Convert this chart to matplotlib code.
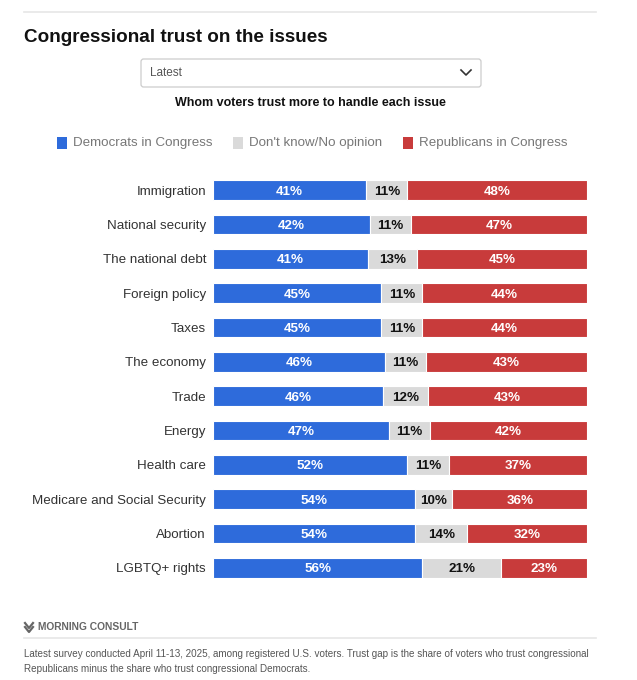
import numpy as np
import matplotlib
matplotlib.use("Agg")
import matplotlib.pyplot as plt
from matplotlib.patches import FancyBboxPatch, Rectangle
from matplotlib.lines import Line2D

plt.rcParams['font.family'] = ['Liberation Sans', 'DejaVu Sans']

# data
issues = ["Immigration", "National security", "The national debt", "Foreign policy",
          "Taxes", "The economy", "Trade", "Energy", "Health care",
          "Medicare and Social Security", "Abortion", "LGBTQ+ rights"]
dem = [41, 42, 41, 45, 45, 46, 46, 47, 52, 54, 54, 56]
dont_know = [11, 11, 13, 11, 11, 11, 12, 11, 11, 10, 14, 21]
rep = [48, 47, 45, 44, 44, 43, 43, 42, 37, 36, 32, 23]
series_names = ["Democrats in Congress", "Don't know/No opinion", "Republicans in Congress"]

BLUE = "#2e6bdb"
GRAY = "#dadada"
RED = "#c83b3b"
colors = [BLUE, GRAY, RED]

W, H = 637, 680
fig = plt.figure(figsize=(W / 100, H / 100), dpi=100)

def fx(px):
    return px / W

def fy(py):
    return 1 - py / H

# bars
ax = fig.add_axes([fx(213), fy(585), fx(587) - fx(213), fy(173) - fy(585)])
vals = np.array([dem, dont_know, rep], dtype=float)
shares = vals / vals.sum(axis=0) * 100
y = np.arange(len(issues))
left = np.zeros(len(issues))
for k in range(3):
    ax.barh(y, shares[k], left=left, height=0.58, color=colors[k],
            edgecolor="white", linewidth=0.8)
    for i in range(len(issues)):
        ax.text(left[i] + shares[k][i] / 2, y[i], f"{int(vals[k][i])}%",
                ha="center", va="center_baseline", fontsize=9.6, fontweight="bold",
                color="#111111" if k == 1 else "white")
    left += shares[k]

ax.set_xlim(0, 100)
ax.set_ylim(len(issues) - 0.5, -0.5)
ax.set_yticks(y)
ax.set_yticklabels(issues, fontsize=9.6, color="#333333")
ax.tick_params(axis="y", length=0, pad=5)
ax.set_xticks([])
for s in ax.spines.values():
    s.set_visible(False)

# header
fig.add_artist(Line2D([fx(24), fx(596)], [fy(12), fy(12)], color="#e6e6e6", lw=1.2))
fig.text(fx(24), fy(38), "Congressional trust on the issues", fontsize=13.6,
         fontweight="bold", color="#111111", va="center", ha="left")
fig.add_artist(FancyBboxPatch((fx(141), fy(87)), fx(481) - fx(141), fy(59) - fy(87),
                              boxstyle="round,pad=0,rounding_size=0.004",
                              transform=fig.transFigure, facecolor="white",
                              edgecolor="#cccccc", lw=0.9))
fig.text(fx(150), fy(73), "Latest", fontsize=8.5, color="#555555", va="center")
fig.add_artist(Line2D([fx(461), fx(466), fx(471)], [fy(70), fy(75), fy(70)],
                      color="#333333", lw=1.2))
fig.text(fx(310), fy(103), "Whom voters trust more to handle each issue",
         fontsize=9.0, fontweight="bold", color="#111111", ha="center", va="center")

# legend
leg_x = [57, 233, 403]
for k in range(3):
    fig.add_artist(Rectangle((fx(leg_x[k]), fy(149)), fx(10), fy(137) - fy(149),
                             transform=fig.transFigure, facecolor=colors[k], lw=0))
    fig.text(fx(leg_x[k] + 16), fy(143), series_names[k], fontsize=9.6,
             color="#777777", va="center")

# footer
fig.add_artist(Line2D([fx(25), fx(29), fx(33)], [fy(623), fy(628), fy(623)],
                      color="#666666", lw=1.6))
fig.add_artist(Line2D([fx(25), fx(29), fx(33)], [fy(627), fy(632), fy(627)],
                      color="#666666", lw=1.6))
fig.text(fx(38), fy(627), "MORNING CONSULT",
         fontsize=7.4, fontweight="bold", color="#666666", va="center")
fig.add_artist(Line2D([fx(24), fx(596)], [fy(638), fy(638)], color="#e6e6e6", lw=1.2))
fig.text(fx(24), fy(654),
         "Latest survey conducted April 11-13, 2025, among registered U.S. voters. "
         "Trust gap is the share of voters who trust congressional",
         fontsize=7.15, color="#555555", va="center")
fig.text(fx(24), fy(669),
         "Republicans minus the share who trust congressional Democrats.",
         fontsize=7.15, color="#555555", va="center")

fig.savefig("out.png", dpi=100, facecolor="white")
